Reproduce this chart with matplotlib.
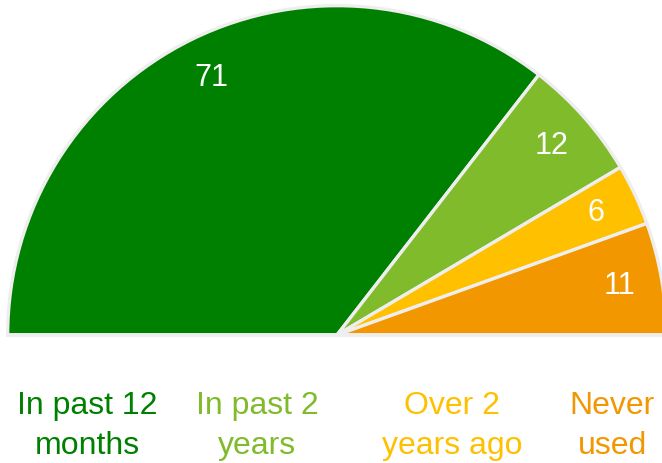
import matplotlib.pyplot as plt

plt.rcParams['font.family'] = ['Liberation Sans', 'DejaVu Sans']

# data
categorias = ['In past 12\nmonths', 'In past 2\nyears', 'Over 2\nyears ago', 'Never\nused']
valores = [71, 12, 6, 11]
cores = ['#008000', '#80bb2b', '#ffc000', '#f39700']
label_x = [87, 257, 452, 612]  # pixel centres of the bottom labels

W, H = 662, 463
fig = plt.figure(figsize=(W / 100, H / 100), dpi=100)

# half pie: centre at (337, 335) px, radius 331 px
cx, cy, R = 337, 335, 331
ax = fig.add_axes([(cx - R) / W, (H - cy - R) / H, 2 * R / W, 2 * R / H])

total = sum(valores)
wedges, textos = ax.pie(valores + [total], startangle=180, counterclock=False,
                        colors=cores + ['none'], radius=0.995,
                        labels=[str(v) for v in valores] + [''],
                        labeldistance=0.87,
                        wedgeprops=dict(edgecolor='#eeeeee', linewidth=2.4),
                        textprops=dict(color='white', fontsize=22, ha='center', va='center'))
wedges[-1].set_visible(False)
# bottom straight line
ax.plot([-1, 1], [0, 0], color='#eeeeee', lw=2.8, solid_capstyle='butt', zorder=3)
ax.set_xlim(-1, 1)
ax.set_ylim(-1, 1)
ax.set_aspect('equal')
ax.axis('off')

for nome, cor, x in zip(categorias, cores, label_x):
    fig.text(x / W, (H - 426) / H, nome, color=cor, fontsize=23, ha='center', va='center',
             multialignment='center', linespacing=1.42)

fig.savefig('out.png', dpi=100)
